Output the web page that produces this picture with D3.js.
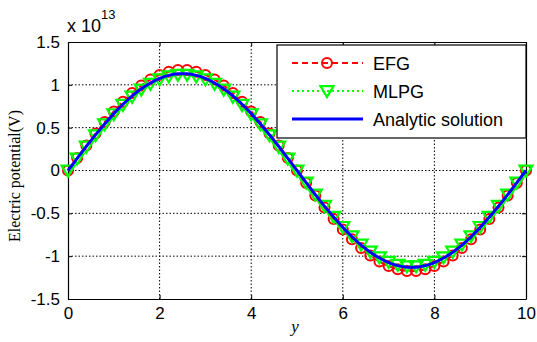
<!DOCTYPE html>
<html>
<head>
<meta charset="utf-8">
<script src="https://d3js.org/d3.v7.min.js"></script>
<style>
  body { margin: 0; background: #fff; }
  svg text { font-family: Arial, "Liberation Sans", sans-serif; fill: #000; }
  .grid line { stroke: #000; stroke-dasharray: 1.5 2; stroke-width: 1; }
</style>
</head>
<body>
<svg id="chart" width="537" height="342"></svg>
<script>
// y positions (0..10 step 0.2), values in units of 1e13 V
const ySamples = [0,0.2,0.4,0.6,0.8,1,1.2,1.4,1.6,1.8,2,2.2,2.4,2.6,2.8,3,3.2,3.4,3.6,3.8,4,4.2,4.4,4.6,4.8,
                  5,5.2,5.4,5.6,5.8,6,6.2,6.4,6.6,6.8,7,7.2,7.4,7.6,7.8,8,8.2,8.4,8.6,8.8,9,9.2,9.4,9.6,9.8,10];

const efg = [0,0.147,0.292,0.432,0.565,0.690,0.803,0.904,0.991,1.062,1.116,1.153,1.172,1.172,1.153,1.116,1.062,0.991,0.904,0.803,0.690,0.565,0.432,0.292,0.147,
             0,-0.147,-0.292,-0.432,-0.565,-0.690,-0.803,-0.904,-0.991,-1.062,-1.116,-1.153,-1.172,-1.172,-1.153,-1.116,-1.062,-0.991,-0.904,-0.803,-0.690,-0.565,-0.432,-0.292,-0.147,0];

const mlpg = [0,0.140,0.279,0.412,0.540,0.658,0.767,0.863,0.946,1.013,1.065,1.100,1.118,1.118,1.100,1.065,1.013,0.946,0.863,0.767,0.658,0.540,0.412,0.279,0.140,
              0,-0.140,-0.279,-0.412,-0.540,-0.658,-0.767,-0.863,-0.946,-1.013,-1.065,-1.100,-1.118,-1.118,-1.100,-1.065,-1.013,-0.946,-0.863,-0.767,-0.658,-0.540,-0.412,-0.279,-0.140,0];

const analytic = [0,0.142,0.281,0.416,0.544,0.664,0.773,0.871,0.954,1.022,1.075,1.110,1.128,1.128,1.110,1.075,1.022,0.954,0.871,0.773,0.664,0.544,0.416,0.281,0.142,
                  0,-0.142,-0.281,-0.416,-0.544,-0.664,-0.773,-0.871,-0.954,-1.022,-1.075,-1.110,-1.128,-1.128,-1.110,-1.075,-1.022,-0.954,-0.871,-0.773,-0.664,-0.544,-0.416,-0.281,-0.142,0];

const xTicks = [0, 2, 4, 6, 8, 10];
const yTicks = [-1.5, -1, -0.5, 0, 0.5, 1, 1.5];
const legendNames = ['EFG', 'MLPG', 'Analytic solution'];

const svg = d3.select('#chart');
const L = 68, R = 526, T = 42, B = 299;

const x = d3.scaleLinear().domain([0, 10]).range([L, R]);
const y = d3.scaleLinear().domain([-1.5, 1.5]).range([B, T]);

// grid
const grid = svg.append('g').attr('class', 'grid');
grid.selectAll('.gx').data(xTicks.slice(1, -1)).enter().append('line')
  .attr('x1', d => x(d)).attr('x2', d => x(d)).attr('y1', T).attr('y2', B);
grid.selectAll('.gy').data(yTicks.slice(1, -1)).enter().append('line')
  .attr('y1', d => y(d)).attr('y2', d => y(d)).attr('x1', L).attr('x2', R);

// axes (ticks pointing inward, MATLAB style)
const xAxis = svg.append('g').attr('transform', `translate(0,${B})`)
  .call(d3.axisBottom(x).tickValues(xTicks).tickSizeInner(-4).tickSizeOuter(0).tickPadding(8).tickFormat(d3.format('d')));
const xAxisTop = svg.append('g').attr('transform', `translate(0,${T})`)
  .call(d3.axisTop(x).tickValues(xTicks).tickSizeInner(-4).tickSizeOuter(0).tickFormat(''));
const yAxis = svg.append('g').attr('transform', `translate(${L},0)`)
  .call(d3.axisLeft(y).tickValues(yTicks).tickSizeInner(-4).tickSizeOuter(0).tickPadding(8).tickFormat(d => d === 0 ? '0' : String(d)));
const yAxisRight = svg.append('g').attr('transform', `translate(${R},0)`)
  .call(d3.axisRight(y).tickValues(yTicks).tickSizeInner(-4).tickSizeOuter(0).tickFormat(''));

[xAxis, xAxisTop, yAxis, yAxisRight].forEach(a => {
  a.select('.domain').attr('stroke', '#000').attr('stroke-width', 1.2);
  a.selectAll('.tick line').attr('stroke', '#000');
  a.selectAll('text').style('font-size', '17px').style('font-family', 'Arial, "Liberation Sans", sans-serif').attr('fill', '#000');
});

const pts = vals => vals.map((v, i) => [ySamples[i], v]);
const line = d3.line().x(d => x(d[0])).y(d => y(d[1])).curve(d3.curveCatmullRom);

// EFG: red dashed with circles
svg.append('path').datum(pts(efg)).attr('d', line)
  .attr('fill', 'none').attr('stroke', '#ff0000').attr('stroke-width', 2).attr('stroke-dasharray', '6 4');
svg.append('g').selectAll('circle').data(pts(efg)).enter().append('circle')
  .attr('cx', d => x(d[0])).attr('cy', d => y(d[1])).attr('r', 5)
  .attr('fill', 'none').attr('stroke', '#ff0000').attr('stroke-width', 2);

// MLPG: green dotted with down triangles
const tri = (cx, cy, s) => `M${cx - s},${cy - s * 0.75}L${cx + s},${cy - s * 0.75}L${cx},${cy + s * 0.95}Z`;
svg.append('path').datum(pts(mlpg)).attr('d', line)
  .attr('fill', 'none').attr('stroke', '#00ff00').attr('stroke-width', 2).attr('stroke-dasharray', '2 3');
svg.append('g').selectAll('path').data(pts(mlpg)).enter().append('path')
  .attr('d', d => tri(x(d[0]), y(d[1]), 6.5))
  .attr('fill', 'none').attr('stroke', '#00ff00').attr('stroke-width', 2.2);

// Analytic solution: blue solid
svg.append('path').datum(pts(analytic)).attr('d', line)
  .attr('fill', 'none').attr('stroke', '#0000ff').attr('stroke-width', 3);

// exponent label
const ex = svg.append('text').attr('x', 67).attr('y', 32).style('font-size', '18px');
ex.append('tspan').text('x 10');
ex.append('tspan').attr('dy', -13).style('font-size', '13px').text('13');

// axis labels
svg.append('text').attr('x', 295).attr('y', 332).attr('text-anchor', 'middle')
  .style('font-family', '"Liberation Serif", "Times New Roman", serif').style('font-style', 'italic').style('font-size', '17px')
  .text('y');
svg.append('text').attr('transform', 'translate(20,176) rotate(-90)').attr('text-anchor', 'middle')
  .style('font-family', '"Liberation Serif", "Times New Roman", serif').style('font-size', '16px')
  .text('Electric potential(V)');

// legend
const lg = svg.append('g');
lg.append('rect').attr('x', 277).attr('y', 45).attr('width', 249).attr('height', 93)
  .attr('fill', '#fff').attr('stroke', '#000').attr('stroke-width', 1.2);
const rows = [63, 91, 119];
const lx1 = 292, lx2 = 363, mx = 327;
lg.append('line').attr('x1', lx1).attr('x2', lx2).attr('y1', rows[0]).attr('y2', rows[0])
  .attr('stroke', '#ff0000').attr('stroke-width', 2).attr('stroke-dasharray', '6 4');
lg.append('circle').attr('cx', mx).attr('cy', rows[0]).attr('r', 5).attr('fill', 'none').attr('stroke', '#ff0000').attr('stroke-width', 2);
lg.append('line').attr('x1', lx1).attr('x2', lx2).attr('y1', rows[1]).attr('y2', rows[1])
  .attr('stroke', '#00ff00').attr('stroke-width', 2).attr('stroke-dasharray', '2 3');
lg.append('path').attr('d', tri(mx, rows[1], 6.5)).attr('fill', 'none').attr('stroke', '#00ff00').attr('stroke-width', 2.2);
lg.append('line').attr('x1', lx1).attr('x2', lx2).attr('y1', rows[2]).attr('y2', rows[2])
  .attr('stroke', '#0000ff').attr('stroke-width', 3);
lg.selectAll('text.lt').data(legendNames).enter().append('text')
  .attr('x', 373).attr('y', (d, i) => rows[i] + 7).style('font-size', '18px').text(d => d);
</script>
</body>
</html>
